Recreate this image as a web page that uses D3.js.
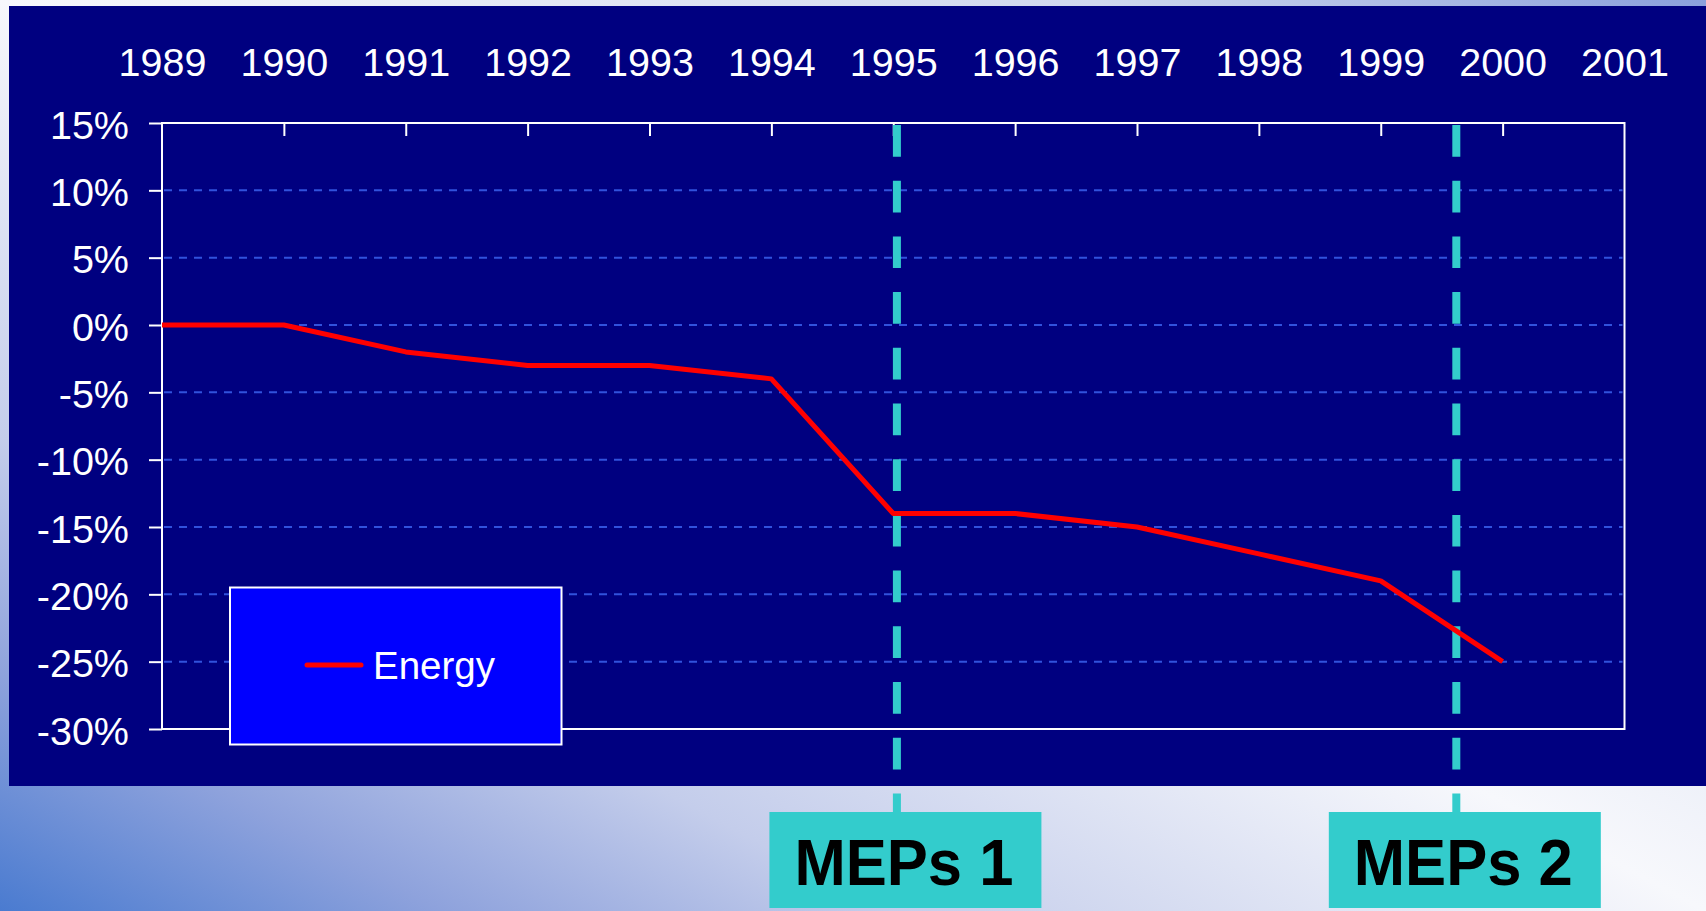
<!DOCTYPE html>
<html>
<head>
<meta charset="utf-8">
<script src="https://cdn.jsdelivr.net/npm/d3@7"></script>
<style>
  html, body { margin: 0; padding: 0; overflow: hidden; }
  svg { display: block; font-family: "Liberation Sans", Arial, sans-serif; }
</style>
</head>
<body>
<div id="graph"></div>
<script>
// chart data
const years = [1989, 1990, 1991, 1992, 1993, 1994, 1995, 1996, 1997, 1998, 1999, 2000, 2001];
const energyYears = [1989, 1990, 1991, 1992, 1993, 1994, 1995, 1996, 1997, 1998, 1999, 2000];
const energy = [0, 0, -2, -3, -3, -4, -14, -14, -15, -17, -19, -25];
const yTicks = [15, 10, 5, 0, -5, -10, -15, -20, -25, -30];
const markerYears = [1995.03, 1999.62];
const markerLabels = ["MEPs 1", "MEPs 2"];
const seriesName = "Energy";

// canvas
const width = 1706;
const height = 911;

const svg = d3.select("#graph").append("svg")
  .attr("width", width)
  .attr("height", height);

// slide background
const grad = svg.append("defs").append("linearGradient")
  .attr("id", "bg")
  .attr("x1", 1).attr("y1", 0)
  .attr("x2", 0).attr("y2", 1);
[[0, "#8aa0dc"], [0.18, "#d0d8ee"], [0.5, "#f7f8fc"], [0.74, "#c4cdeb"], [0.87, "#8ea2dc"], [1, "#4a7bd0"]]
  .forEach(s => grad.append("stop").attr("offset", s[0]).attr("stop-color", s[1]));

svg.append("rect")
  .attr("width", width).attr("height", height)
  .attr("fill", "url(#bg)");

svg.append("rect")
  .attr("x", 9).attr("y", 6)
  .attr("width", width - 9).attr("height", 780)
  .attr("fill", "#000080");

// scales
const x = d3.scaleLinear().domain([1989, 2001]).range([162, 1624.5]);
const y = d3.scaleLinear().domain([15, -30]).range([123, 729]);

// grid lines
svg.append("g")
  .selectAll("line")
  .data(yTicks.filter(d => d < 15 && d > -30))
  .enter().append("line")
  .attr("x1", x(1989) + 2).attr("x2", x(2001) - 2)
  .attr("y1", d => y(d)).attr("y2", d => y(d))
  .attr("stroke", "#3152dc")
  .attr("stroke-width", 2)
  .attr("stroke-dasharray", "8,7");

// axes
const leftAxis = svg.append("g")
  .attr("transform", "translate(" + x(1989) + ",0)")
  .call(d3.axisLeft(y).tickValues(yTicks).tickSize(13).tickPadding(20).tickFormat(d => d + "%"));

const topAxis = svg.append("g")
  .attr("transform", "translate(0," + y(15) + ")")
  .call(d3.axisTop(x).tickValues(years).tickSize(-13).tickPadding(47).tickFormat(d3.format("d")));

[leftAxis, topAxis].forEach(g => {
  g.select(".domain").remove();
  g.selectAll("line").attr("stroke", "#fff").attr("stroke-width", 2);
  g.selectAll("text").attr("fill", "#fff").attr("font-size", 39.5)
    .attr("font-family", "'Liberation Sans', Arial, sans-serif");
});
leftAxis.selectAll("text").attr("dy", "0.38em");
topAxis.selectAll("text").attr("dy", 0);
topAxis.selectAll(".tick line").filter(d => d === 1989 || d === 2001).remove();

// frame
svg.append("rect")
  .attr("x", x(1989)).attr("y", y(15))
  .attr("width", x(2001) - x(1989)).attr("height", y(-30) - y(15))
  .attr("fill", "none")
  .attr("stroke", "#fff")
  .attr("stroke-width", 2);

// marker lines
svg.append("g")
  .selectAll("line")
  .data(markerYears)
  .enter().append("line")
  .attr("x1", d => x(d)).attr("x2", d => x(d))
  .attr("y1", y(15) + 2).attr("y2", 812)
  .attr("stroke", "#33cccc")
  .attr("stroke-width", 8)
  .attr("stroke-dasharray", "31.7,24");

// energy line
const line = d3.line()
  .x((d, i) => x(energyYears[i]))
  .y(d => y(d));

svg.append("path")
  .datum(energy)
  .attr("d", line)
  .attr("fill", "none")
  .attr("stroke", "#ff0000")
  .attr("stroke-width", 5)
  .attr("stroke-linejoin", "round");

// legend
const legend = svg.append("g");
legend.append("rect")
  .attr("x", 230).attr("y", 587.5)
  .attr("width", 331.5).attr("height", 157)
  .attr("fill", "#0000ff")
  .attr("stroke", "#fff")
  .attr("stroke-width", 2);
legend.append("line")
  .attr("x1", 307).attr("x2", 361)
  .attr("y1", 665).attr("y2", 665)
  .attr("stroke", "#ff0000")
  .attr("stroke-width", 5)
  .attr("stroke-linecap", "round");
legend.append("text")
  .attr("x", 373).attr("y", 679)
  .attr("fill", "#fff")
  .attr("font-size", 38.5)
  .text(seriesName);

// marker labels
const labels = svg.append("g")
  .selectAll("g")
  .data(markerYears)
  .enter().append("g")
  .attr("transform", d => "translate(" + (x(d) - 127.5) + ",812)");

labels.append("rect")
  .attr("width", 272).attr("height", 96)
  .attr("fill", "#33cccc");

labels.append("text")
  .attr("x", 25).attr("y", 73)
  .attr("font-size", 64)
  .attr("font-weight", "bold")
  .attr("fill", "#000")
  .attr("textLength", 219)
  .attr("lengthAdjust", "spacingAndGlyphs")
  .text((d, i) => markerLabels[i]);
</script>
</body>
</html>
